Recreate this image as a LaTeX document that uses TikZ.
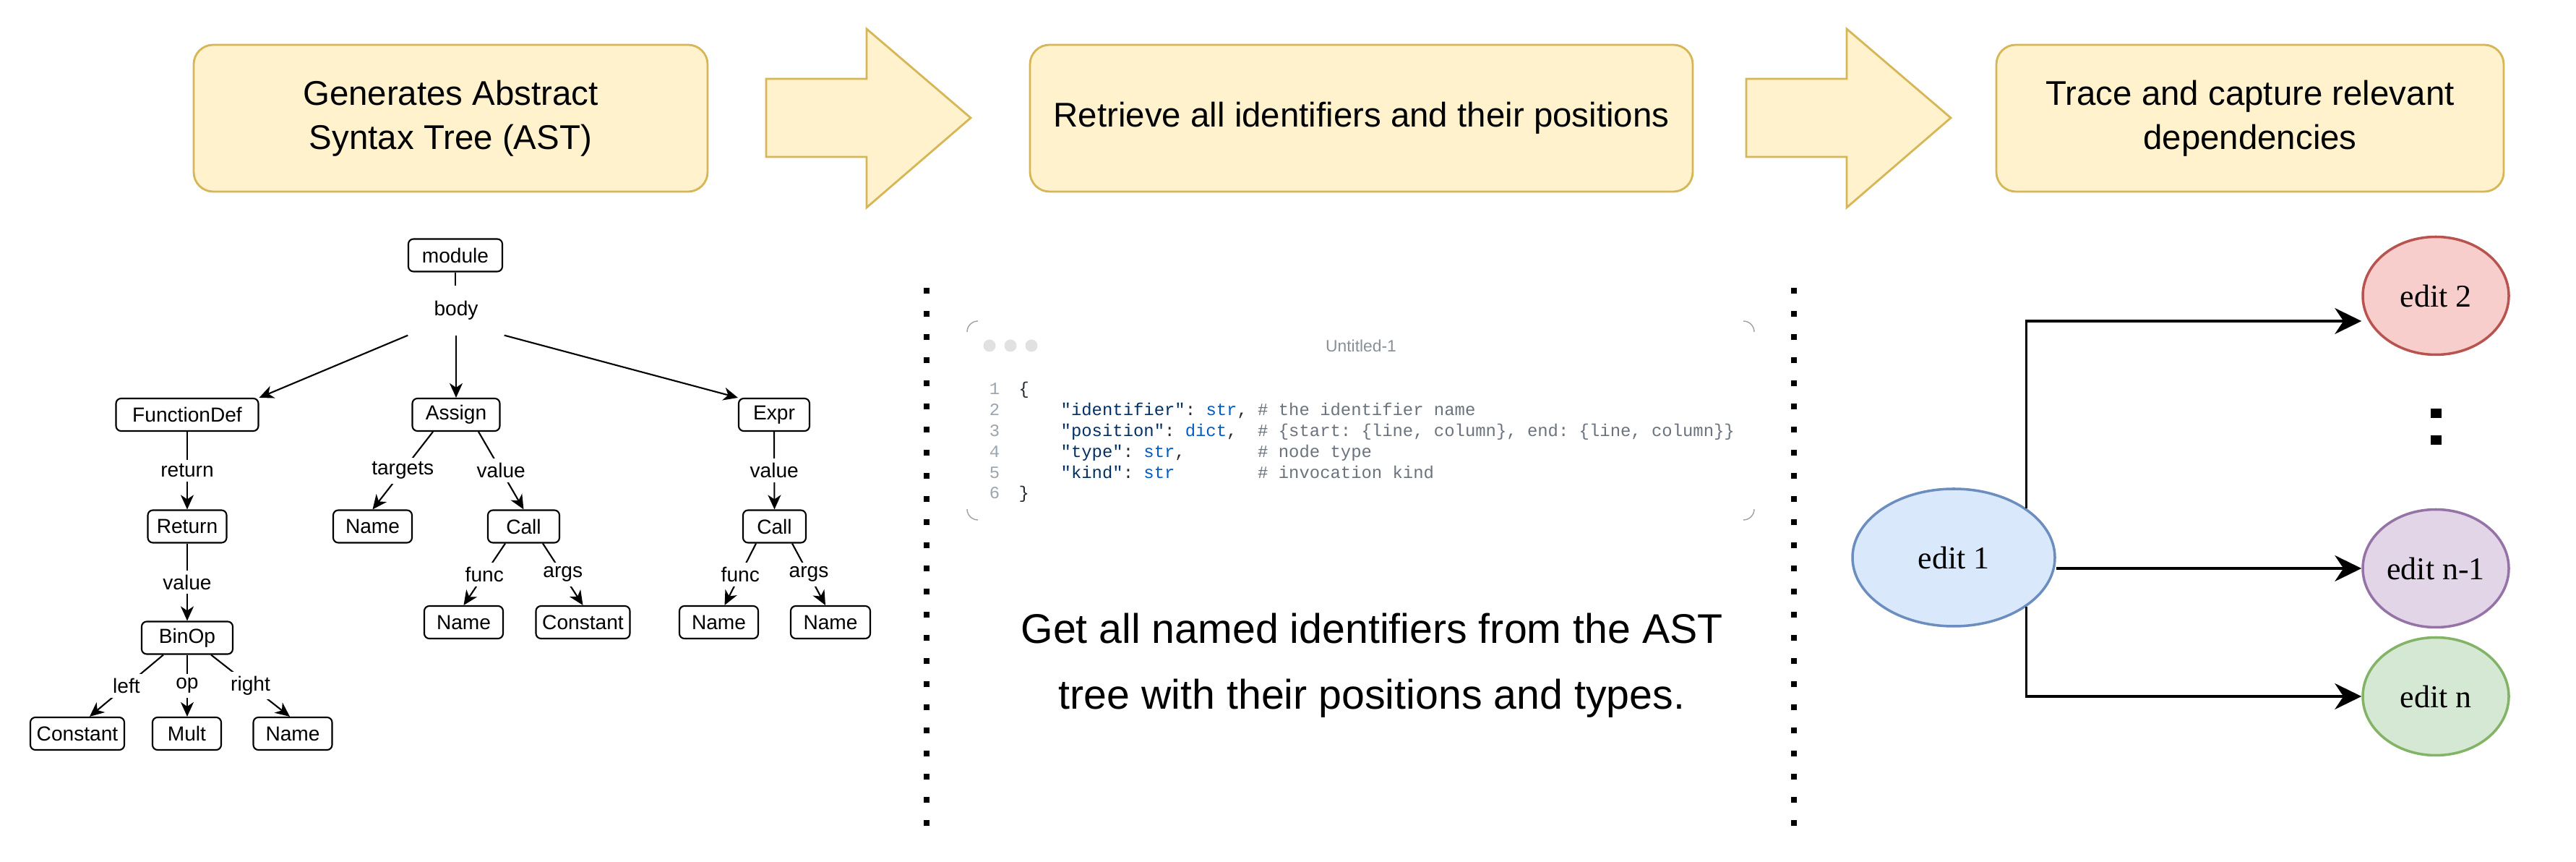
\documentclass[tikz,border=0pt]{standalone}
\usepackage{fontspec}
\setmainfont{Liberation Sans}
\setmonofont{Liberation Mono}
\newfontfamily\editfont{Liberation Serif}
\usetikzlibrary{arrows.meta,positioning,shapes.geometric}

\definecolor{stepfill}{HTML}{FFF2CC}
\definecolor{stepline}{HTML}{D6B656}
\definecolor{eonefill}{HTML}{DAE8FC}
\definecolor{eoneline}{HTML}{6C8EBF}
\definecolor{etwofill}{HTML}{F8CECC}
\definecolor{etwoline}{HTML}{B85450}
\definecolor{emfill}{HTML}{E1D5E7}
\definecolor{emline}{HTML}{9673A6}
\definecolor{enfill}{HTML}{D5E8D4}
\definecolor{enline}{HTML}{82B366}
\definecolor{codekey}{HTML}{032F62}
\definecolor{codetype}{HTML}{005CC5}
\definecolor{codecom}{HTML}{6A737D}
\definecolor{codenum}{HTML}{9AA5AF}
\definecolor{codeplain}{HTML}{24292E}
\definecolor{codedot}{HTML}{E1E1E1}
\definecolor{codeframe}{HTML}{A0A0A0}

\newcommand\jkey[1]{\textcolor{codekey}{#1}}
\newcommand\jtype[1]{\textcolor{codetype}{#1}}
\newcommand\jcom[1]{\textcolor{codecom}{#1}}

\tikzset{
  stepbox/.style={draw=stepline, fill=stepfill, line width=0.8pt, rounded corners=0.27cm,
    minimum height=2.03cm, align=center, font=\fontsize{13.5}{17.3}\selectfont},
  ast/.style={draw, line width=0.6pt, rounded corners=0.07cm, minimum height=0.45cm,
    inner sep=0pt, font=\fontsize{8}{9.6}\selectfont},
  lbl/.style={fill=white, inner sep=0.06cm, font=\fontsize{8}{9.6}\selectfont},
  astedge/.style={line width=0.6pt, -{Stealth[length=2mm,width=1.8mm,inset=0.6mm]}},
  editnode/.style={ellipse, line width=1pt, inner sep=0pt, minimum width=2.02cm,
    minimum height=1.63cm, font=\editfont\fontsize{12.5}{15}\selectfont},
  dep/.style={line width=1pt, -{Stealth[length=3.7mm,width=3.6mm,inset=1.2mm]}},
  lnum/.style={anchor=base, inner sep=0pt, text=codenum, font=\ttfamily\fontsize{6.8}{8}\selectfont},
  codeln/.style={anchor=base west, inner sep=0pt, text=codeplain, font=\ttfamily\fontsize{6.8}{8}\selectfont},
}

\begin{document}
\begin{tikzpicture}
    \useasboundingbox (0,0) rectangle (35.64,11.92);

    \node[stepbox, minimum width=7.11cm] (gen) at (6.235,10.285) {Generates Abstract\\Syntax Tree (AST)};
    \node[stepbox, minimum width=9.17cm] (retr) at (18.835,10.285) {Retrieve all identifiers and their positions};
    \node[stepbox, minimum width=7.02cm] (trace) at (31.13,10.285) {Trace and capture relevant\\dependencies};
    \foreach \x in {10.60,24.16}
    {
        \draw[draw=stepline, fill=stepfill, line width=0.8pt] (\x,10.83) -- ++(1.39,0) -- ++(0,0.69)
            -- ++(1.44,-1.23) -- ++(-1.44,-1.24) -- ++(0,0.70) -- ++(-1.39,0) -- cycle;
    }

    \foreach \x in {12.82,24.82}
    {
        \draw[line width=0.08cm, dash pattern=on 0.08cm off 0.24cm] (\x,7.94) -- (\x,0.50);
    }

    \node[ast, minimum width=1.30cm] (module) at (6.30,8.39) {module};
    \node[lbl, inner sep=0pt, minimum width=1.32cm, minimum height=0.67cm] (body) at (6.31,7.625) {body};
    \node[ast, minimum width=1.97cm] (fdef) at (2.59,6.185) {FunctionDef};
    \node[ast, minimum width=1.21cm] (assign) at (6.31,6.185) {Assign};
    \node[ast, minimum width=0.98cm] (expr) at (10.71,6.185) {Expr};
    \node[ast, minimum width=1.09cm] (retn) at (2.59,4.64) {Return};
    \node[ast, minimum width=1.26cm] (binop) at (2.59,3.10) {BinOp};
    \node[ast, minimum width=1.30cm] (cnst1) at (1.07,1.775) {Constant};
    \node[ast, minimum width=0.95cm] (mult) at (2.585,1.775) {Mult};
    \node[ast, minimum width=1.09cm] (name1) at (4.05,1.775) {Name};
    \node[ast, minimum width=1.09cm] (name2) at (5.155,4.64) {Name};
    \node[ast, minimum width=0.99cm] (call1) at (7.245,4.64) {Call};
    \node[ast, minimum width=1.09cm] (name3) at (6.415,3.315) {Name};
    \node[ast, minimum width=1.30cm] (cnst2) at (8.065,3.315) {Constant};
    \node[ast, minimum width=0.87cm] (call2) at (10.715,4.64) {Call};
    \node[ast, minimum width=1.09cm] (name4) at (9.945,3.315) {Name};
    \node[ast, minimum width=1.10cm] (name5) at (11.49,3.315) {Name};

    \draw[line width=0.6pt] (module.south) -- (module.south |- body.north);
    \draw[astedge] (body.south west) -- (fdef.north east);
    \draw[astedge] (body.south) -- (assign.north);
    \draw[astedge] (body.south east) -- (expr.north west);
    \draw[astedge] (fdef.south) -- node[lbl]{return} (retn.north);
    \draw[astedge] (retn.south) -- node[lbl]{value} (binop.north);
    \draw[astedge] ([xshift=-0.33cm]binop.south) -- node[lbl]{left} ([xshift=0.17cm]cnst1.north);
    \draw[astedge] (binop.south) -- node[lbl]{op} (binop.south |- mult.north);
    \draw[astedge] ([xshift=0.33cm]binop.south) -- node[lbl]{right} ([xshift=-0.04cm]name1.north);
    \draw[astedge] ([xshift=-0.32cm]assign.south) -- node[lbl]{targets} (name2.north);
    \draw[astedge] ([xshift=0.31cm]assign.south) -- node[lbl]{value} (call1.north);
    \draw[astedge] ([xshift=-0.255cm]call1.south) -- node[lbl]{func} (name3.north);
    \draw[astedge] ([xshift=0.265cm]call1.south) -- node[lbl]{args} (cnst2.north);
    \draw[astedge] (expr.south) -- node[lbl]{value} (call2.north);
    \draw[astedge] ([xshift=-0.255cm]call2.south) -- node[lbl]{func} ([xshift=0.08cm]name4.north);
    \draw[astedge] ([xshift=0.245cm]call2.south) -- node[lbl]{args} ([xshift=-0.07cm]name5.north);

    \draw[codeframe, line width=0.4pt] (13.38,7.33) arc[start angle=180, end angle=90, radius=0.15];
    \draw[codeframe, line width=0.4pt] (24.12,7.48) arc[start angle=90, end angle=0, radius=0.15];
    \draw[codeframe, line width=0.4pt] (24.27,4.88) arc[start angle=0, end angle=-90, radius=0.15];
    \draw[codeframe, line width=0.4pt] (13.53,4.73) arc[start angle=270, end angle=180, radius=0.15];
    \foreach \x in {13.69,13.98,14.27}
    {
        \fill[codedot] (\x,7.14) circle (0.085);
    }
    \node[text=codecom!80, font=\fontsize{6.5}{8}\selectfont] (title) at (18.83,7.14) {Untitled-1};
    \foreach \n in {1,...,6}
    {
        \node[lnum] (ln\n) at (13.76,6.748-0.288*\n) {\n};
    }
    \node[codeln] (code1) at (14.09,6.460) {\{};
    \node[codeln] (code2) at (14.67,6.172) {\jkey{"identifier"}:~\jtype{str},~\jcom{\#~the~identifier~name}};
    \node[codeln] (code3) at (14.67,5.884) {\jkey{"position"}:~\jtype{dict},~~\jcom{\#~\{start:~\{line,~column\},~end:~\{line,~column\}\}}};
    \node[codeln] (code4) at (14.67,5.596) {\jkey{"type"}:~\jtype{str},~~~~~~~\jcom{\#~node~type}};
    \node[codeln] (code5) at (14.67,5.308) {\jkey{"kind"}:~\jtype{str}~~~~~~~~\jcom{\#~invocation~kind}};
    \node[codeln] (code6) at (14.09,5.020) {\}};

    \node[align=center, font=\fontsize{16.3}{25.8}\selectfont] (note) at (18.98,2.72)
        {Get all named identifiers from the AST\\tree with their positions and types.};

    \node[editnode, draw=eoneline, fill=eonefill, minimum width=2.80cm, minimum height=1.90cm] (edit1) at (27.03,4.21) {edit 1};
    \node[editnode, draw=etwoline, fill=etwofill] (edit2) at (33.70,7.83) {edit 2};
    \node[editnode, draw=emline, fill=emfill] (editm) at (33.70,4.06) {edit n-1};
    \node[editnode, draw=enline, fill=enfill] (editn) at (33.70,2.29) {edit n};
    \draw[dep] (edit1.north east) |- ([yshift=-0.35cm]edit2.west);
    \draw[dep] (editm.west -| edit1.east) -- (editm.west);
    \draw[dep] (edit1.south east) |- (editn.west);
    \fill (33.63,6.14) rectangle (33.78,6.27);
    \fill (33.63,5.77) rectangle (33.78,5.90);
\end{tikzpicture}
\end{document}
